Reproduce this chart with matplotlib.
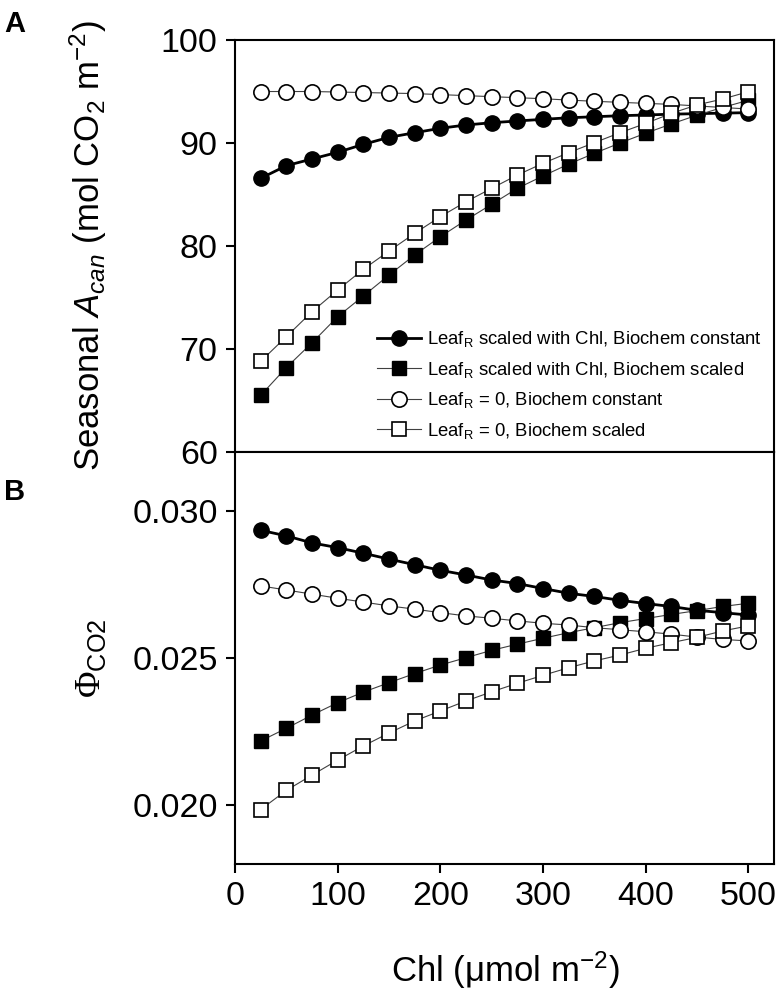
import matplotlib
matplotlib.use("Agg")
import matplotlib.pyplot as plt

plt.rcParams['font.family'] = ['Liberation Sans', 'DejaVu Sans']
plt.rcParams['mathtext.fontset'] = 'custom'
plt.rcParams['mathtext.rm'] = 'Liberation Sans'
plt.rcParams['mathtext.it'] = 'Liberation Sans:italic'
plt.rcParams['mathtext.sf'] = 'Liberation Serif'

# Chl content (umol m-2)
chl = [25, 50, 75, 100, 125, 150, 175, 200, 225, 250,
       275, 300, 325, 350, 375, 400, 425, 450, 475, 500]

# panel A: seasonal canopy assimilation (mol CO2 m-2)
a_leafr_const = [86.57, 87.80, 88.45, 89.10, 89.87, 90.55, 91.00, 91.43, 91.75, 91.97,
                 92.14, 92.30, 92.45, 92.55, 92.65, 92.72, 92.80, 92.85, 92.90, 92.95]
a_leafr_scaled = [65.5, 68.2, 70.6, 73.14, 75.15, 77.18, 79.13, 80.90, 82.52, 84.05,
                  85.60, 86.80, 87.95, 89.00, 90.00, 90.95, 91.85, 92.70, 93.45, 94.15]
a_zero_const = [95.0, 95.0, 95.0, 94.95, 94.9, 94.85, 94.8, 94.7, 94.6, 94.5,
                94.4, 94.3, 94.17, 94.05, 93.95, 93.85, 93.75, 93.6, 93.45, 93.3]
a_zero_scaled = [68.8, 71.2, 73.62, 75.73, 77.74, 79.51, 81.23, 82.85, 84.30, 85.60,
                 86.89, 88.03, 89.06, 90.03, 91.00, 91.90, 92.88, 93.70, 94.27, 94.98]

# panel B: quantum yield of CO2 uptake
q_leafr_const = [0.02934, 0.02915, 0.02891, 0.02875, 0.02856, 0.02836, 0.02817, 0.02798, 0.02782, 0.02765,
                 0.02753, 0.02736, 0.02720, 0.02709, 0.02696, 0.02685, 0.02675, 0.02662, 0.02654, 0.02646]
q_leafr_scaled = [0.02218, 0.02261, 0.02306, 0.02348, 0.02384, 0.02416, 0.02447, 0.02476, 0.02501, 0.02526,
                  0.02547, 0.02567, 0.02586, 0.02603, 0.02620, 0.02634, 0.02648, 0.02661, 0.02675, 0.02686]
q_zero_const = [0.02745, 0.02731, 0.02717, 0.02703, 0.02690, 0.02677, 0.02666, 0.02654, 0.02643, 0.02635,
                0.02626, 0.02618, 0.02612, 0.02603, 0.02596, 0.02589, 0.02581, 0.02571, 0.02563, 0.02558]
q_zero_scaled = [0.01985, 0.02050, 0.02102, 0.02153, 0.02201, 0.02245, 0.02286, 0.02320, 0.02354, 0.02385,
                 0.02414, 0.02441, 0.02467, 0.02490, 0.02510, 0.02533, 0.02552, 0.02570, 0.02592, 0.02609]

labels = ["Leaf$_{\\rm R}$ scaled with Chl, Biochem constant",
          "Leaf$_{\\rm R}$ scaled with Chl, Biochem scaled",
          "Leaf$_{\\rm R}$ = 0, Biochem constant",
          "Leaf$_{\\rm R}$ = 0, Biochem scaled"]

styles = [dict(marker='o', ms=11, mfc='black', mec='black', color='black', lw=2.0),
          dict(marker='s', ms=9.5, mfc='black', mec='black', color='0.25', lw=0.8),
          dict(marker='o', ms=11, mfc='white', mec='black', mew=1.2, color='0.25', lw=0.8),
          dict(marker='s', ms=9.5, mfc='white', mec='black', mew=1.2, color='0.25', lw=0.8)]

fig = plt.figure(figsize=(7.8, 9.98), dpi=100)
ax1 = fig.add_axes([0.3013, 0.5471, 0.6910, 0.4128])
ax2 = fig.add_axes([0.3013, 0.1343, 0.6910, 0.4128])

for ax in (ax1, ax2):
    for s in ax.spines.values():
        s.set_linewidth(1.5)
    ax.tick_params(direction='out', length=6.5, width=1.5, labelsize=24.5, pad=6)
    ax.set_xlim(0, 525)

for series, lab, st in zip([a_leafr_const, a_leafr_scaled, a_zero_const, a_zero_scaled], labels, styles):
    ax1.plot(chl, series, label=lab, **st)
for series, st in zip([q_leafr_const, q_leafr_scaled, q_zero_const, q_zero_scaled], styles):
    ax2.plot(chl, series, **st)

ax1.set_ylim(60, 100)
ax1.set_yticks([60, 70, 80, 90, 100])
ax1.tick_params(axis='x', bottom=False, labelbottom=False)

ax2.set_ylim(0.018, 0.032)
ax2.set_yticks([0.020, 0.025, 0.030])
ax2.set_yticklabels(["0.020", "0.025", "0.030"])
ax2.set_xticks([0, 100, 200, 300, 400, 500])

ax1.legend(loc='upper left', bbox_to_anchor=(0.2635, 0.298), frameon=False,
           fontsize=13.3, borderpad=0, borderaxespad=0, handlelength=2.4,
           handletextpad=0.3, labelspacing=0.57)

fig.text(88 / 780, 1 - 246 / 998, "Seasonal $A_{can}$ (mol $\\mathrm{CO_2}$ $\\mathrm{m^{-2}}$)",
         rotation=90, ha='center', va='center', fontsize=25)
fig.text(90 / 780, 1 - 658 / 998, "$\\mathsf{\\Phi}_{\\rm CO2}$",
         rotation=90, ha='center', va='center', fontsize=26)
fig.text(505 / 780, 1 - 970 / 998, "Chl (\u03bcmol $\\mathrm{m^{-2}}$)",
         ha='center', va='center', fontsize=25)
fig.text(15 / 780, 1 - 24 / 998, "A", fontsize=21, fontweight='bold', ha='center', va='center')
fig.text(15 / 780, 1 - 492 / 998, "B", fontsize=21, fontweight='bold', ha='center', va='center')

fig.savefig("out.png", dpi=100)
